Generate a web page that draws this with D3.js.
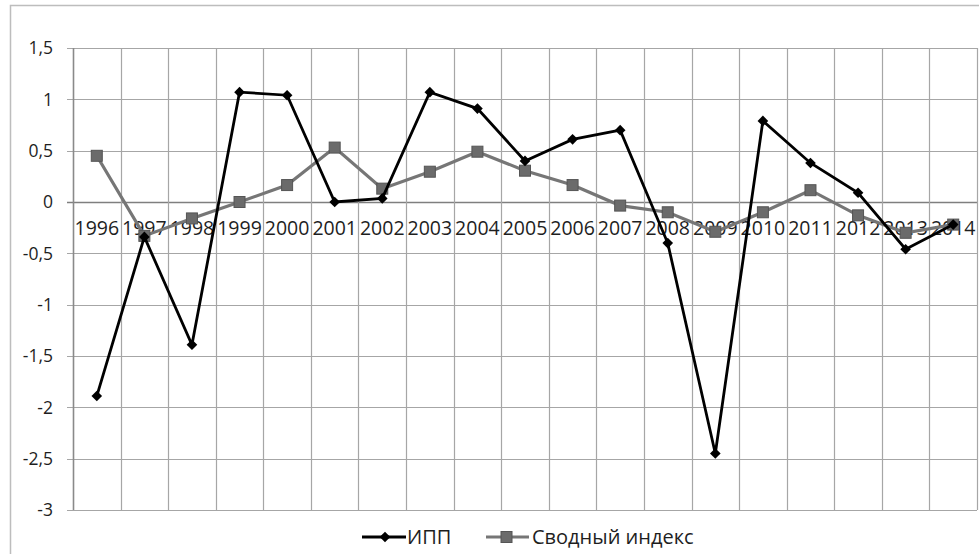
<!DOCTYPE html>
<html>
<head>
<meta charset="utf-8">
<script src="https://cdn.jsdelivr.net/npm/d3@7"></script>
<style>
  body { margin: 0; background: #fff; }
  text { font-family: "Open Sans", "Liberation Sans", sans-serif; fill: #1e1e1e; }
</style>
</head>
<body>
<div id="chart"></div>
<script>
// data
var years = ["1996","1997","1998","1999","2000","2001","2002","2003","2004","2005",
             "2006","2007","2008","2009","2010","2011","2012","2013","2014"];
var ipp = [-1.89, -0.34, -1.39, 1.07, 1.04, 0.00, 0.035, 1.07, 0.91, 0.40,
           0.61, 0.70, -0.40, -2.45, 0.79, 0.38, 0.09, -0.46, -0.22];
var svodny = [0.45, -0.33, -0.16, 0.00, 0.165, 0.53, 0.13, 0.295, 0.49, 0.305,
              0.165, -0.035, -0.10, -0.29, -0.10, 0.115, -0.13, -0.30, -0.22];
var yTicks = [1.5, 1, 0.5, 0, -0.5, -1, -1.5, -2, -2.5, -3];

var svgWidth = 979, svgHeight = 554;
var margin = { top: 48, right: 2, bottom: 44, left: 73 };
var width = svgWidth - margin.left - margin.right;
var height = svgHeight - margin.top - margin.bottom;

var svg = d3.select("#chart").append("svg")
  .attr("width", svgWidth)
  .attr("height", svgHeight);

// outer chart frame (right and bottom edges fall outside the picture)
svg.append("rect")
  .attr("x", 10.5).attr("y", 5.5)
  .attr("width", 990).attr("height", 570)
  .attr("fill", "none")
  .attr("stroke", "#bdbdbd")
  .attr("stroke-width", 1.5);

var g = svg.append("g")
  .attr("transform", `translate(${margin.left}, ${margin.top})`);

var x = d3.scaleBand().domain(years).range([0, width]);
var y = d3.scaleLinear().domain([-3, 1.5]).range([height, 0]);

var fmt = function(d) { return String(d).replace(".", ","); };

// horizontal gridlines
g.selectAll(".hgrid")
  .data(yTicks)
  .enter().append("line")
  .attr("x1", -6).attr("x2", width)
  .attr("y1", d => Math.round(y(d)) + 0.5)
  .attr("y2", d => Math.round(y(d)) + 0.5)
  .attr("stroke", d => d === 0 ? "#7f7f7f" : "#a6a6a6")
  .attr("stroke-width", d => d === 0 ? 1.5 : 1.2);

// vertical gridlines at category boundaries
var bounds = years.map(d => x(d)).concat([width]);
g.selectAll(".vgrid")
  .data(bounds)
  .enter().append("line")
  .attr("x1", d => Math.round(d) + 0.5).attr("x2", d => Math.round(d) + 0.5)
  .attr("y1", 0).attr("y2", height)
  .attr("stroke", (d, i) => i === 0 ? "#8a8a8a" : "#a6a6a6")
  .attr("stroke-width", (d, i) => i === 0 ? 1.6 : 1.2);

// y tick labels
g.selectAll(".ylab")
  .data(yTicks)
  .enter().append("text")
  .attr("x", -20)
  .attr("y", d => y(d))
  .attr("dy", "0.36em")
  .attr("text-anchor", "end")
  .style("font-size", "17.5px")
  .text(fmt);

// x labels just under the zero line
g.selectAll(".xlab")
  .data(years)
  .enter().append("text")
  .attr("x", d => x(d) + x.bandwidth() / 2)
  .attr("y", y(0) + 33)
  .attr("text-anchor", "middle")
  .style("font-size", "19.5px")
  .text(d => d);

var line = d3.line()
  .x((d, i) => x(years[i]) + x.bandwidth() / 2)
  .y(d => y(d));

// Сводный индекс
g.append("path")
  .datum(svodny)
  .attr("d", line)
  .attr("fill", "none")
  .attr("stroke", "#767676")
  .attr("stroke-width", 3.2);

g.selectAll(".sq")
  .data(svodny)
  .enter().append("rect")
  .attr("x", (d, i) => x(years[i]) + x.bandwidth() / 2 - 5.5)
  .attr("y", d => y(d) - 5.5)
  .attr("width", 11).attr("height", 11)
  .attr("fill", "#6b6b6b")
  .attr("stroke", "#555")
  .attr("stroke-width", 1);

// ИПП
g.append("path")
  .datum(ipp)
  .attr("d", line)
  .attr("fill", "none")
  .attr("stroke", "#000")
  .attr("stroke-width", 2.8);

var diamond = d3.symbol().type(d3.symbolDiamond2).size(72);
g.selectAll(".dm")
  .data(ipp)
  .enter().append("path")
  .attr("d", diamond)
  .attr("transform", (d, i) => `translate(${x(years[i]) + x.bandwidth() / 2}, ${y(d)})`)
  .attr("fill", "#000");

// legend
var leg = svg.append("g").attr("transform", "translate(0, 537)");
leg.append("line")
  .attr("x1", 362).attr("x2", 406).attr("y1", 0).attr("y2", 0)
  .attr("stroke", "#000").attr("stroke-width", 2.8);
leg.append("path")
  .attr("d", diamond)
  .attr("transform", "translate(385, 0)")
  .attr("fill", "#000");
leg.append("text")
  .attr("x", 407).attr("y", 0).attr("dy", "0.36em")
  .style("font-size", "20px")
  .text("ИПП");

leg.append("line")
  .attr("x1", 486).attr("x2", 529).attr("y1", 0).attr("y2", 0)
  .attr("stroke", "#767676").attr("stroke-width", 3.2);
leg.append("rect")
  .attr("x", 501).attr("y", -5.5).attr("width", 11).attr("height", 11)
  .attr("fill", "#6b6b6b").attr("stroke", "#555");
leg.append("text")
  .attr("x", 532).attr("y", 0).attr("dy", "0.36em")
  .style("font-size", "20px")
  .text("Сводный индекс");
</script>
</body>
</html>
